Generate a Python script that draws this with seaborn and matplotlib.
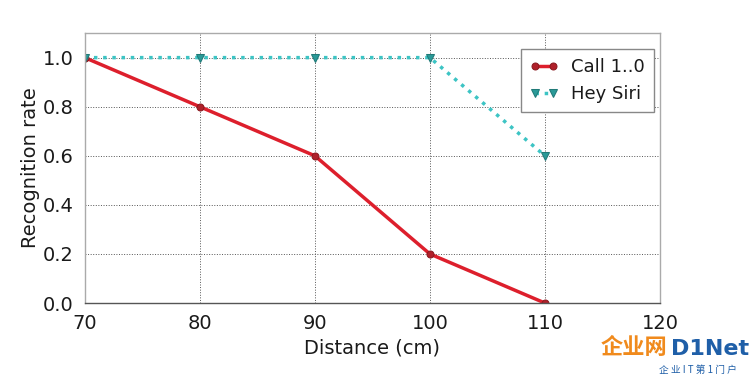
import matplotlib
matplotlib.use('Agg')
import matplotlib.pyplot as plt
import pandas as pd
import seaborn as sns

# values
distance = [70, 80, 90, 100, 110]
call_rate = [1.0, 0.8, 0.6, 0.2, 0.0]
siri_rate = [1.0, 1.0, 1.0, 1.0, 0.6]

sns.set_style('white')
plt.rcParams['font.family'] = ['DejaVu Sans', 'Noto Sans CJK SC']
plt.rcParams['text.color'] = '#1a1a1a'
plt.rcParams['axes.labelcolor'] = '#1a1a1a'
plt.rcParams['xtick.color'] = '#1a1a1a'
plt.rcParams['ytick.color'] = '#1a1a1a'

df = pd.DataFrame({'distance': distance, 'Call 1..0': call_rate,
                   'Hey Siri': siri_rate})

fig = plt.figure(figsize=(7.5, 3.76), dpi=100)
ax = fig.add_axes([0.113, 0.194, 0.767, 0.718])

sns.lineplot(data=df, x='distance', y='Call 1..0', ax=ax, color='#dd1f2c',
             linewidth=2.5, marker='o', markersize=5, markerfacecolor='#b0202a',
             markeredgecolor='#8a1a20', label='Call 1..0')
sns.lineplot(data=df, x='distance', y='Hey Siri', ax=ax, color='#3cc4c4',
             linewidth=2.5, linestyle=':', marker='v', markersize=6,
             markerfacecolor='#2a9a98', markeredgecolor='#207a78',
             label='Hey Siri')

ax.set_xlim(70, 120)
ax.set_ylim(0, 1.1)
ax.set_xticks([70, 80, 90, 100, 110, 120])
ax.set_yticks([0.0, 0.2, 0.4, 0.6, 0.8, 1.0])
ax.set_yticklabels(['0.0', '0.2', '0.4', '0.6', '0.8', '1.0'])
ax.tick_params(labelsize=14, length=0, pad=8)
ax.set_xlabel('Distance (cm)', fontsize=14, labelpad=4)
ax.set_ylabel('Recognition rate', fontsize=14, labelpad=2)
ax.grid(True, color='#555555', linestyle=':', linewidth=0.7)
for s in ax.spines.values():
    s.set_color('#aaaaaa')
    s.set_linewidth(1.0)
ax.spines['bottom'].set_color('#555555')

leg = ax.legend(loc='upper right', fontsize=13, frameon=True, fancybox=False,
                borderpad=0.5, handlelength=1.6, handletextpad=0.7,
                numpoints=2, bbox_to_anchor=(1.005, 0.975))
leg.get_frame().set_edgecolor('#888888')
leg.get_frame().set_linewidth(1.0)
leg.get_frame().set_alpha(1.0)

# watermark in the corner
fig.text(0.89, 0.045, '企业网', fontsize=16, color='#f08a1c', fontweight='bold',
         ha='right', va='bottom', family=['Noto Sans CJK SC'])
fig.text(0.895, 0.045, 'D1Net', fontsize=16, color='#1f5fa8', fontweight='bold',
         ha='left', va='bottom')
fig.text(0.93, 0.003, '企 业 I T 第 1 门 户', fontsize=7, color='#1f5fa8',
         ha='center', va='bottom', family=['Noto Sans CJK SC'])

fig.savefig('out.png', dpi=100)
